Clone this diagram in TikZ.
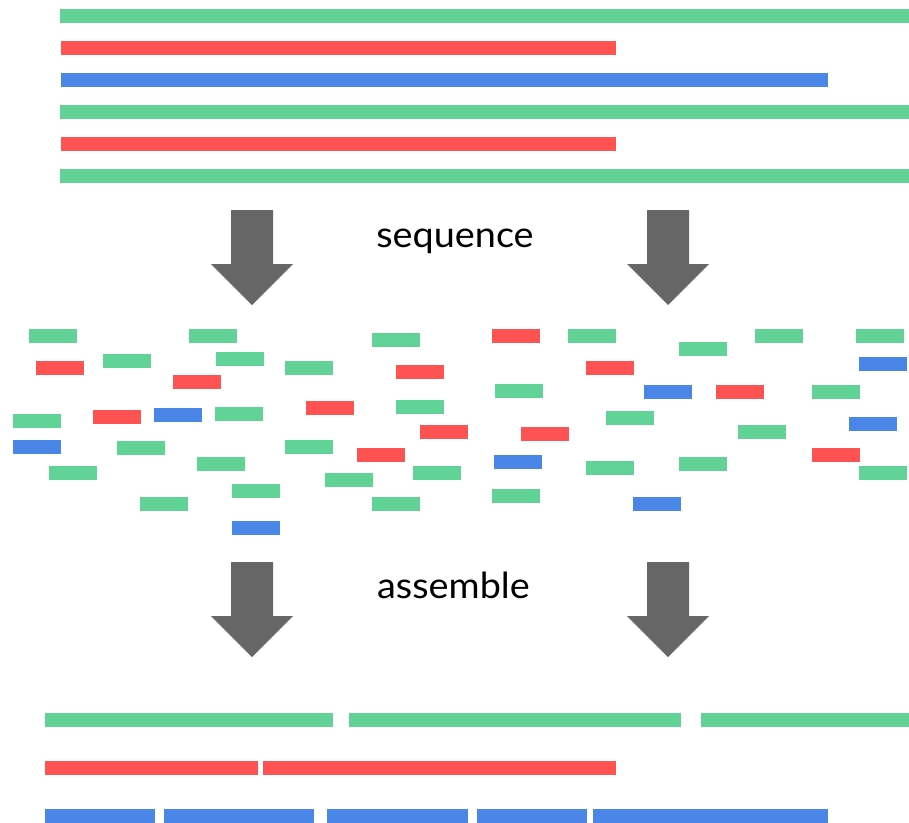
\documentclass[tikz,border=0pt]{standalone}
\usepackage{fontspec}
\setmainfont{Lato}
\newfontfamily\labelfont[FakeStretch=1.05]{Lato}
\definecolor{rgreen}{HTML}{62D397}
\definecolor{rred}{HTML}{FF5353}
\definecolor{rblue}{HTML}{4A86E8}
\definecolor{arrowgray}{HTML}{666666}
% a short sequencing read: 48 x 14 units
\newcommand\readfrag[3]{\fill[#1] (#2,#3) rectangle ++(48,14);}
% a long strand or assembled contig from x0 to x1 at top edge y
\newcommand\strand[4]{\fill[#1] (#2,#4) rectangle (#3,#4+14);}
% a thick block arrow pointing down, centred on x, starting at y
\newcommand\blockarrow[2]{\fill[arrowgray] (#1-21,#2) -- (#1+21,#2) -- (#1+21,#2+54) -- (#1+41,#2+54) -- (#1,#2+95) -- (#1-41,#2+54) -- (#1-21,#2+54) -- cycle;}
\begin{document}
\begin{tikzpicture}[x=1pt,y=-1pt,
  label/.style={font=\labelfont\fontsize{36}{40}\selectfont, text=black, inner sep=0pt, anchor=base}]
\useasboundingbox (0,0) rectangle (909,822);

% original strands
\strand{rgreen}{60}{909}{9}
\strand{rred}{61}{616}{41}
\strand{rblue}{61}{828}{73}
\strand{rgreen}{60}{909}{105}
\strand{rred}{61}{616}{137}
\strand{rgreen}{60}{909}{169}

% sequencing step
\blockarrow{252}{210}
\blockarrow{668}{210}
\node[label] (seq) at (455,247) {sequence};

% reads, left half
\readfrag{rgreen}{29}{329}
\readfrag{rgreen}{189}{329}
\readfrag{rgreen}{372}{333}
\readfrag{rred}{36}{361}
\readfrag{rgreen}{103}{354}
\readfrag{rgreen}{216}{352}
\readfrag{rgreen}{285}{361}
\readfrag{rred}{396}{365}
\readfrag{rred}{173}{375}
\readfrag{rgreen}{13}{414}
\readfrag{rred}{93}{410}
\readfrag{rblue}{154}{408}
\readfrag{rgreen}{215}{407}
\readfrag{rred}{306}{401}
\readfrag{rgreen}{396}{400}
\readfrag{rred}{420}{425}
\readfrag{rblue}{13}{440}
\readfrag{rgreen}{117}{441}
\readfrag{rgreen}{285}{440}
\readfrag{rred}{357}{448}
\readfrag{rgreen}{49}{466}
\readfrag{rgreen}{197}{457}
\readfrag{rgreen}{413}{466}
\readfrag{rgreen}{325}{473}
\readfrag{rgreen}{232}{484}
\readfrag{rgreen}{140}{497}
\readfrag{rgreen}{372}{497}
\readfrag{rblue}{232}{521}

% reads, right half
\readfrag{rred}{492}{329}
\readfrag{rgreen}{568}{329}
\readfrag{rgreen}{679}{342}
\readfrag{rgreen}{755}{329}
\readfrag{rgreen}{856}{329}
\readfrag{rred}{586}{361}
\readfrag{rblue}{859}{357}
\readfrag{rgreen}{495}{384}
\readfrag{rblue}{644}{385}
\readfrag{rred}{716}{385}
\readfrag{rgreen}{812}{385}
\readfrag{rgreen}{606}{411}
\readfrag{rred}{521}{427}
\readfrag{rgreen}{738}{425}
\readfrag{rblue}{849}{417}
\readfrag{rblue}{494}{455}
\readfrag{rgreen}{586}{461}
\readfrag{rgreen}{679}{457}
\readfrag{rred}{812}{448}
\readfrag{rgreen}{859}{466}
\readfrag{rgreen}{492}{489}
\readfrag{rblue}{633}{497}

% assembly step
\blockarrow{252}{562}
\blockarrow{668}{562}
\node[label] (asm) at (453.5,598) {assemble};

% assembled contigs
\strand{rgreen}{45}{333}{713}
\strand{rgreen}{349}{681}{713}
\strand{rgreen}{701}{909}{713}
\strand{rred}{45}{258}{761}
\strand{rred}{263}{616}{761}
\strand{rblue}{45}{155}{809}
\strand{rblue}{164}{314}{809}
\strand{rblue}{327}{468}{809}
\strand{rblue}{477}{587}{809}
\strand{rblue}{593}{828}{809}
\end{tikzpicture}
\end{document}
